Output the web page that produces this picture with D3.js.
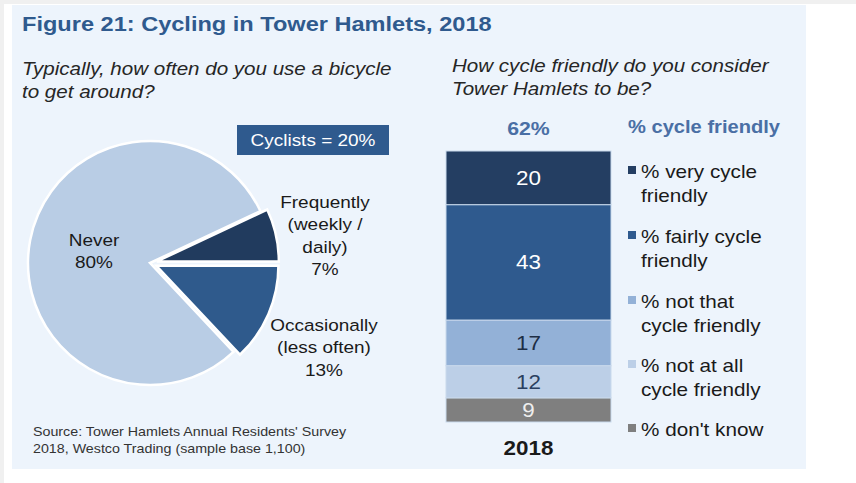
<!DOCTYPE html>
<html>
<head>
<meta charset="utf-8">
<script src="https://cdn.jsdelivr.net/npm/d3@7"></script>
<style>
  html, body { margin: 0; padding: 0; background: #ffffff; }
  svg { display: block; font-family: "Liberation Sans", Arial, sans-serif; }
</style>
</head>
<body>
<svg id="chart" width="856" height="483"></svg>
<script>
// Usage of bicycles (pie)
const usageLabels = [["Frequently", "(weekly /", "daily)", "7%"], ["Occasionally", "(less often)", "13%"], ["Never", "80%"]];
const usageValues = [7, 13, 80];
const usageColors = ["#213b5e", "#2f5a8c", "#b9cde5"];

// Perceived cycle friendliness (stacked bar, top to bottom)
const friendlyCategories = ["% very cycle friendly", "% fairly cycle friendly", "% not that cycle friendly", "% not at all cycle friendly", "% don't know"];
const friendlyLegendLines = [["% very cycle", "friendly"], ["% fairly cycle", "friendly"], ["% not that", "cycle friendly"], ["% not at all", "cycle friendly"], ["% don't know"]];
const friendlyValues = [20, 43, 17, 12, 9];
const friendlyColors = ["#243e62", "#2f5a8e", "#93b1d7", "#bccfe7", "#7f7f7f"];
const friendlyTextColors = ["#ffffff", "#ffffff", "#1e2e45", "#2a4060", "#eeeeee"];
const friendlyYear = "2018";
const friendlyTotal = "62%";

const svg = d3.select("#chart");
const STRETCH = 1.15; // the typeface is set slightly wide

// text helper: multi-line text anchored at (x, y), widened horizontally
function txt(x, y, lines, attrs, lineHeight) {
  const t = svg.append("text").attr("transform", `translate(${x},${y}) scale(${STRETCH},1)`);
  Object.entries(attrs).forEach(([k, v]) => t.attr(k, v));
  [].concat(lines).forEach((l, j) => t.append("tspan").attr("x", 0).attr("y", j * (lineHeight || 0)).text(l));
  return t;
}

// page backdrop and panel
svg.append("rect").attr("x", 0).attr("y", 0).attr("width", 856).attr("height", 4).attr("fill", "#f0f0f0");
svg.append("rect").attr("x", 0).attr("y", 0).attr("width", 4).attr("height", 483).attr("fill", "#f0f0f0");
svg.append("rect").attr("x", 12).attr("y", 5).attr("width", 794).attr("height", 464).attr("fill", "#edf4fc");

const blue = "#2f5a8e";

txt(22, 31, "Figure 21: Cycling in Tower Hamlets, 2018",
  { "font-size": 20.5, "font-weight": "bold", "fill": blue });

// questions
txt(22, 75, ["Typically, how often do you use a bicycle", "to get around?"],
  { "font-size": 17.9, "font-style": "italic", "fill": "#262626" }, 23);
txt(452, 72, ["How cycle friendly do you consider", "Tower Hamlets to be?"],
  { "font-size": 17.9, "font-style": "italic", "fill": "#262626" }, 23);

// ---- pie ----
const cx = 150, cy = 263, r = 122, explode = 7;
const start = Math.PI / 2 - (usageValues[0] / d3.sum(usageValues)) * 2 * Math.PI;
const pie = d3.pie().sort(null).startAngle(start).endAngle(start + 2 * Math.PI);
const arc = d3.arc().innerRadius(0).outerRadius(r);
const arcs = pie(usageValues);

const pieG = svg.append("g").attr("transform", `translate(${cx},${cy})`);
pieG.selectAll("path").data(arcs).join("path")
  .attr("d", arc)
  .attr("fill", (d, i) => usageColors[i])
  .attr("stroke", "#ffffff").attr("stroke-width", 2.5)
  .attr("transform", (d, i) => {
    if (i === 2) return null;
    const a = (d.startAngle + d.endAngle) / 2;
    return `translate(${Math.sin(a) * explode},${-Math.cos(a) * explode})`;
  });

// pie labels
const pieLabelPos = [[325, 208], [324, 331], [94, 246]];
usageLabels.forEach((lines, i) => {
  txt(pieLabelPos[i][0], pieLabelPos[i][1], lines,
    { "font-size": 16.5, "fill": "#1a1a1a", "text-anchor": "middle" }, 22.5);
});

// cyclists box
svg.append("rect").attr("x", 237).attr("y", 125).attr("width", 152).attr("height", 30).attr("fill", blue);
txt(313, 146, "Cyclists = " + d3.sum(usageValues.slice(0, 2)) + "%",
  { "font-size": 16.5, "fill": "#ffffff", "text-anchor": "middle" });

// source
txt(33, 436, ["Source: Tower Hamlets Annual Residents' Survey", "2018,  Westco Trading (sample  base 1,100)"],
  { "font-size": 12.4, "fill": "#333333" }, 17);

// ---- stacked bar ----
const x = d3.scaleBand().domain([friendlyYear]).range([446, 611]).padding(0);
const y = d3.scaleLinear().domain([0, d3.sum(friendlyValues)]).range([422, 151]);
const row = {};
friendlyCategories.forEach((c, i) => row[c] = friendlyValues[i]);
// stack from the bottom: reverse order so "very cycle friendly" sits on top
const stack = d3.stack().keys(friendlyCategories.slice().reverse());
const series = stack([row]);
const xMid = x(friendlyYear) + x.bandwidth() / 2;

const barG = svg.append("g");
series.forEach(s => {
  const i = friendlyCategories.indexOf(s.key);
  const d = s[0];
  barG.append("rect")
    .attr("x", x(friendlyYear)).attr("width", x.bandwidth())
    .attr("y", y(d[1])).attr("height", y(d[0]) - y(d[1]))
    .attr("fill", friendlyColors[i])
    .attr("stroke", "#c9d9ec").attr("stroke-width", 1);
  txt(xMid, (y(d[0]) + y(d[1])) / 2 + 7, String(friendlyValues[i]),
    { "font-size": 19.5, "fill": friendlyTextColors[i], "text-anchor": "middle" });
});

txt(xMid, 455, friendlyYear,
  { "font-size": 19.5, "font-weight": "bold", "fill": "#1a1a1a", "text-anchor": "middle" });
txt(xMid, 135, friendlyTotal,
  { "font-size": 18.5, "font-weight": "bold", "fill": "#4a6fa5", "text-anchor": "middle" });
txt(628, 133, "% cycle friendly",
  { "font-size": 17.5, "font-weight": "bold", "fill": "#4a6fa5" });

// legend
const legendY = [172, 237, 302, 366, 430];
friendlyLegendLines.forEach((lines, i) => {
  svg.append("rect").attr("x", 628).attr("y", legendY[i] - 6).attr("width", 8).attr("height", 8)
    .attr("fill", friendlyColors[i]);
  txt(641, legendY[i] + 6, lines, { "font-size": 18, "fill": "#1a1a1a" }, 24.5);
});
</script>
</body>
</html>
